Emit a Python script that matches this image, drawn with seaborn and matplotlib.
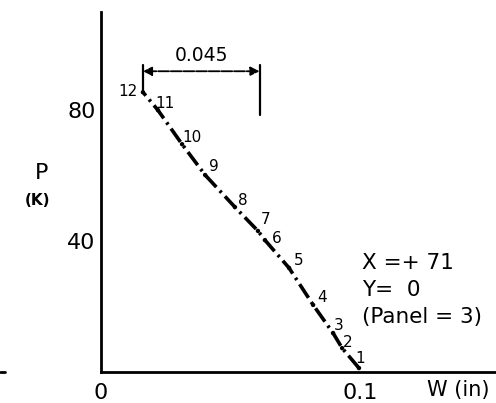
import matplotlib
matplotlib.use("Agg")
import matplotlib.pyplot as plt
import seaborn as sns
import pandas as pd
from matplotlib.lines import Line2D

# Load-deflection readings, numbered in the order they were taken
step = [1, 2, 3, 4, 5, 6, 7, 8, 9, 10, 11, 12]
w_in = [0.0996, 0.0931, 0.0896, 0.0819, 0.0726, 0.0633, 0.0606, 0.0517,
        0.0402, 0.0313, 0.0220, 0.0162]
p_k = [1.2, 7.3, 11.9, 20.5, 31.8, 40.3, 43.1, 50.4, 60.2, 69.6, 80.0, 85.5]

# label offsets (pixels) for the step numbers
lab_dx = [1, 6, 6, 9, 10, 12, 8, 8, 9, 10, 7, -15]
lab_dy = [10, 6, 8, 7, 7, 2, 11, 7, 8, 7, 7, 1]

recovery = 0.045
x_ticks = [0.0, 0.02, 0.04, 0.06, 0.08, 0.10, 0.12]
x_labels = ["0", "", "", "", "", "0.1", ""]
y_ticks = [20, 40, 60, 80, 100]
y_labels = ["", "40", "", "80", ""]
notes = ["X =+ 71", "Y=  0", "(Panel = 3)"]

df = pd.DataFrame({"step": step, "W": w_in, "P": p_k})

sns.set_theme(style="white")
plt.rcParams["font.family"] = ["DejaVu Sans"]

fig = plt.figure(figsize=(4.96, 4.03), dpi=100)
ax = fig.add_axes([0.2036, 0.0769, 0.7964, 0.8933])

sns.lineplot(data=df, x="W", y="P", sort=False, ax=ax, color="black",
             linewidth=2.6, dashes=False, estimator=None)
ax.lines[0].set_dashes([4.5, 1.4, 0.7, 1.4])
sns.scatterplot(data=df, x="W", y="P", ax=ax, color="black", s=10,
                edgecolor="none", zorder=3)

for s, x, y, dx, dy in zip(step, w_in, p_k, lab_dx, lab_dy):
    ax.annotate(str(s), (x, y), xytext=(dx, dy), textcoords="offset pixels",
                ha="center", va="center", fontsize=11, color="black",
                fontweight="medium")

# dimension line showing the recovered deflection
x0 = w_in[-1]
x1 = x0 + recovery
ax.plot([x0, x0], [86.1, 93.7], color="black", lw=1.6)
ax.plot([x1, x1], [78.5, 93.7], color="black", lw=1.6)
ax.annotate("", xy=(x0, 91.9), xytext=(x1, 91.9),
            arrowprops=dict(arrowstyle="<|-|>", color="black", lw=1.3,
                            mutation_scale=13, shrinkA=0, shrinkB=0,
                            linestyle=(0, (6, 1))))
ax.text((x0 + x1) / 2, 96.8, f"{recovery:.3f}", ha="center", va="center",
        fontsize=13.5, color="black")

ax.set_xlim(0, 0.1525)
ax.set_ylim(0, 110)
ax.set_xticks(x_ticks)
ax.set_xticklabels(x_labels)
ax.set_yticks(y_ticks)
ax.set_yticklabels(y_labels)
ax.tick_params(axis="both", direction="in", length=7, width=1.6,
               colors="black", labelsize=16, pad=4)
ax.tick_params(axis="x", pad=8)
ax.xaxis.get_major_ticks()[0].tick1line.set_visible(False)
for side in ["top", "right"]:
    ax.spines[side].set_visible(False)
for side in ["left", "bottom"]:
    ax.spines[side].set_color("black")
    ax.spines[side].set_linewidth(2)
ax.set_xlabel("")
ax.set_ylabel("")

ax.text(0.1500, -5.5, "W (in)", ha="right", va="center", fontsize=15,
        color="black")
fig.text(42 / 496, 1 - 173 / 403, "P", ha="center", va="center",
         fontsize=16, color="black")
fig.text(37 / 496, 1 - 201 / 403, "(K)", ha="center", va="center",
         fontsize=11, color="black", fontweight="bold")

for i, t in enumerate(notes):
    fig.text(362 / 496, 1 - (263 + 27 * i) / 403, t, ha="left", va="center",
             fontsize=15.5, color="black")

# stub of the neighbouring panel's axis at the left edge
fig.add_artist(Line2D([0, 5 / 496], [1 - 372 / 403] * 2, color="black",
                      lw=2))

fig.savefig("out.png", dpi=100, facecolor="white")
